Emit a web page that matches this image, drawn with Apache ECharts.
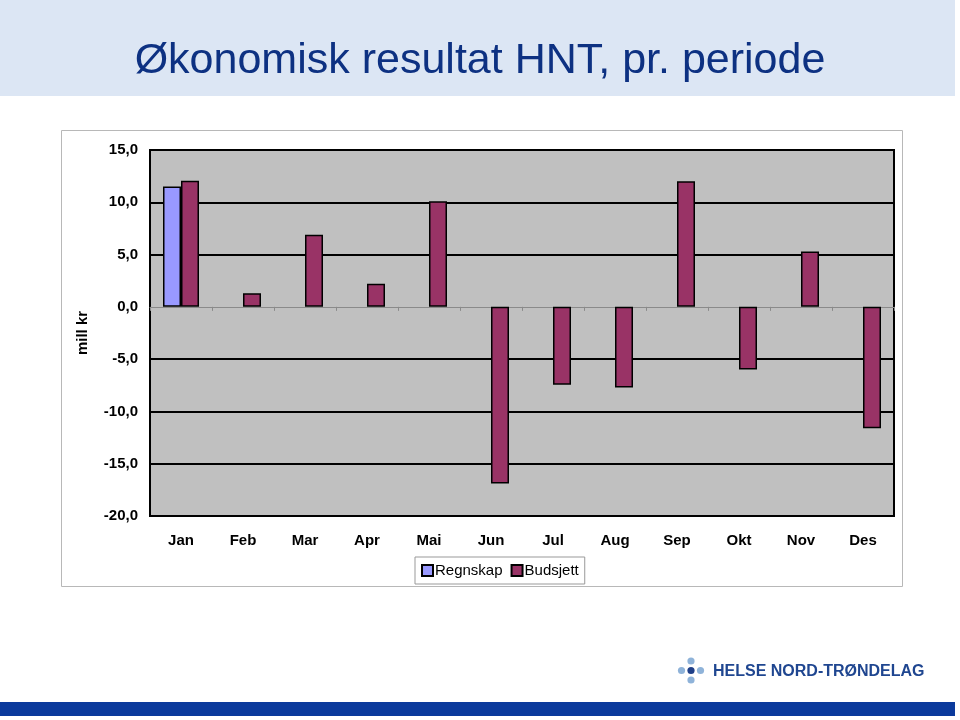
<!DOCTYPE html>
<html>
<head>
<meta charset="utf-8">
<script src="https://cdn.jsdelivr.net/npm/echarts@6/dist/echarts.min.js"></script>
<style>
  html, body { margin: 0; padding: 0; background: #fff; }
  #main { width: 960px; height: 720px; }
</style>
</head>
<body>
<div id="main"></div>
<script>
// data (mill kr)
var months = ["Jan", "Feb", "Mar", "Apr", "Mai", "Jun", "Jul", "Aug", "Sep", "Okt", "Nov", "Des"];
var regnskap = [11.5, null, null, null, null, null, null, null, null, null, null, null];
var budsjett = [12.05, 1.3, 6.9, 2.2, 10.1, -16.9, -7.45, -7.7, 12.0, -6.0, 5.3, -11.6];
var yTicks = [-20, -15, -10, -5, 0, 5, 10, 15];

var fontFam = "Liberation Sans, Arial, sans-serif";

// split line colours follow the ticks from min; hide the one at 0 (the axis line is drawn there)
var splitColors = yTicks.map(function (v) { return v === 0 ? "rgba(0,0,0,0)" : "#000"; });

var option = {
  animation: false,
  backgroundColor: "#fff",
  graphic: [
    // title band
    { type: "rect", z: -10, shape: { x: 0, y: 0, width: 955, height: 96 }, style: { fill: "#dce6f4" } },
    // chart frame
    { type: "rect", z: -10, shape: { x: 61.5, y: 130.5, width: 841, height: 456 }, style: { fill: "#fff", stroke: "#b8b8b8", lineWidth: 1 } },
    // bottom stripe
    { type: "rect", z: -10, shape: { x: 0, y: 702, width: 955, height: 14 }, style: { fill: "#0b3a9c" } },
    // logo dots
    { type: "circle", shape: { cx: 691, cy: 661, r: 3.6 }, style: { fill: "#8fb3d9" } },
    { type: "circle", shape: { cx: 691, cy: 680, r: 3.6 }, style: { fill: "#8fb3d9" } },
    { type: "circle", shape: { cx: 681.5, cy: 670.5, r: 3.6 }, style: { fill: "#8fb3d9" } },
    { type: "circle", shape: { cx: 700.5, cy: 670.5, r: 3.6 }, style: { fill: "#8fb3d9" } },
    { type: "circle", shape: { cx: 691, cy: 670.5, r: 3.6 }, style: { fill: "#1f3f88" } },
    { type: "text", x: 713, y: 672, style: { text: "HELSE NORD-TRØNDELAG", font: "bold 16px " + fontFam, fill: "#1f4690", verticalAlign: "middle" } }
  ],
  title: {
    text: "Økonomisk resultat HNT, pr. periode",
    left: "center",
    top: 35,
    textStyle: { fontFamily: fontFam, fontWeight: "normal", fontSize: 43, color: "#0d3182" }
  },
  legend: {
    left: 415,
    top: 557,
    itemWidth: 11,
    itemHeight: 11,
    itemGap: 8,
    padding: [6, 6],
    borderColor: "#999",
    borderWidth: 1,
    backgroundColor: "#fff",
    textStyle: { fontFamily: fontFam, fontSize: 15, color: "#000", padding: [0, 0, 0, -3] },
    data: [{ name: "Regnskap", icon: "rect" }, { name: "Budsjett", icon: "rect" }]
  },
  grid: {
    left: 150,
    top: 150,
    right: 66,
    bottom: 204,
    show: true,
    backgroundColor: "#c0c0c0",
    borderColor: "#000",
    borderWidth: 2
  },
  xAxis: [
    {
      type: "category",
      data: months,
      position: "bottom",
      axisLine: { show: false, onZero: false },
      axisTick: { show: false },
      axisLabel: { margin: 17, fontFamily: fontFam, fontSize: 15, fontWeight: "bold", color: "#000" }
    },
    {
      type: "category",
      data: months,
      position: "bottom",
      axisLine: { show: true, onZero: true, lineStyle: { color: "#8a8a8a", width: 1 } },
      axisTick: { show: true, length: 4, lineStyle: { color: "#8a8a8a" } },
      axisLabel: { show: false }
    }
  ],
  yAxis: {
    type: "value",
    min: -20,
    max: 15,
    interval: 5,
    name: "mill kr",
    nameLocation: "middle",
    nameRotate: 90,
    nameGap: 60,
    nameTextStyle: { fontFamily: fontFam, fontSize: 15, fontWeight: "bold", color: "#000" },
    axisLine: { show: false },
    axisTick: { show: false },
    axisLabel: {
      margin: 12,
      fontFamily: fontFam,
      fontSize: 15,
      fontWeight: "bold",
      color: "#000",
      formatter: function (v) { return v.toFixed(1).replace(".", ","); }
    },
    splitLine: { show: true, lineStyle: { color: splitColors, width: 2 } }
  },
  series: [
    {
      name: "Regnskap",
      type: "bar",
      xAxisIndex: 0,
      barWidth: 18,
      barGap: "0%",
      itemStyle: { color: "#9999ff", borderColor: "#000", borderWidth: 1.5 },
      data: regnskap
    },
    {
      name: "Budsjett",
      type: "bar",
      xAxisIndex: 0,
      barWidth: 18,
      barGap: "0%",
      itemStyle: { color: "#993366", borderColor: "#000", borderWidth: 1.5 },
      data: budsjett
    }
  ]
};

var myChart = echarts.init(document.getElementById("main"));
myChart.setOption(option);
</script>
</body>
</html>
